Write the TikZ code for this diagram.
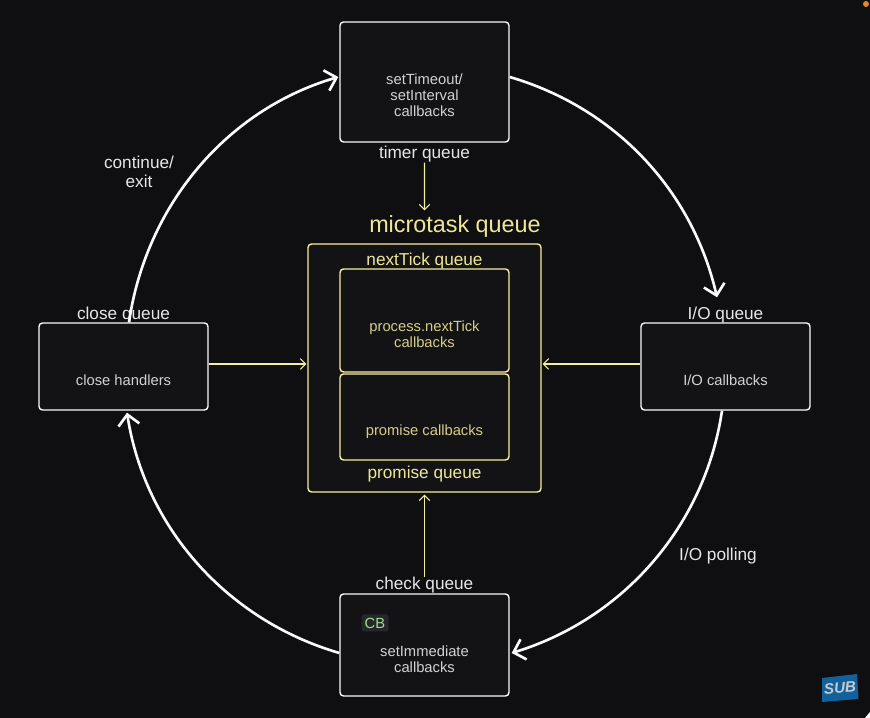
\documentclass[tikz,border=0pt]{standalone}
\usepackage{fontspec}
\setmainfont{Liberation Sans}
\usetikzlibrary{
  arrows.meta,
}
\definecolor{bgDark}{HTML}{0F0F11}
\definecolor{fillBox}{HTML}{131316}
\definecolor{lineWhite}{HTML}{FAFAFA}
\definecolor{textWhite}{HTML}{E6E6E6}
\definecolor{textBox}{HTML}{D2D2D2}
\definecolor{lineYellow}{HTML}{F5EE9E}
\definecolor{textYellow}{HTML}{EFE797}
\definecolor{textYellowDim}{HTML}{D6CE88}
\definecolor{badgeFill}{HTML}{25282A}
\definecolor{badgeText}{HTML}{A6DB8E}
\definecolor{subBlue}{HTML}{12619B}
\definecolor{subText}{HTML}{C4CCD2}
\definecolor{dotOrange}{HTML}{E8842A}
\tikzset{
  whitebox/.style={
    rectangle, rounded corners=2pt, draw=lineWhite, fill=fillBox,
    minimum width=3.38cm, line width=0.8pt, inner sep=0pt,
  },
  yellowbox/.style={
    whitebox, draw=lineYellow,
  },
  boxtext/.style={font=\fontsize{8.4}{9.1}\selectfont, text=textBox, align=center},
  yellowtext/.style={boxtext, text=textYellowDim},
  queuelabel/.style={font=\fontsize{9.8}{11}\selectfont, text=textWhite, align=center},
  yellowlabel/.style={queuelabel, text=textYellow},
  looparrow/.style={-{Straight Barb[length=6pt,width=12pt,line width=1.5pt]}, lineWhite, line width=1.5pt, looseness=0.93},
  microarrow/.style={-{Straight Barb[length=3pt,width=6pt]}, lineYellow, line width=0.6pt},
}
\begin{document}
\begin{tikzpicture}

  \fill[bgDark] (0, 0) rectangle (17.4, 14.36);
  \useasboundingbox (0, 0) rectangle (17.4, 14.36);

  % Screen corners
  \fill[lineWhite] (17.4, 0) -- (17.4, 0.12) .. controls (17.36, 0.05) .. (17.3, 0) -- cycle;
  \fill[dotOrange] (17.32, 14.28) circle (0.06);

  % Phase boxes
  \node[whitebox, minimum height=2.4cm] (timer) at (8.49, 12.72) {};
  \node[whitebox, minimum height=1.74cm] (close) at (2.47, 7.03) {};
  \node[whitebox, minimum height=1.74cm] (io) at (14.51, 7.03) {};
  \node[whitebox, minimum height=2.04cm] (check) at (8.49, 1.46) {};

  % Microtask boxes
  \node[yellowbox, minimum width=4.66cm, minimum height=4.96cm] (micro) at (8.49, 7.0) {};
  \node[yellowbox, minimum height=2.06cm] (nextTick) at (8.49, 7.95) {};
  \node[yellowbox, minimum height=1.72cm] (promise) at (8.49, 6.02) {};

  % Box texts
  \node[boxtext] (timerText) at (8.49, 12.45) {setTimeout/\\setInterval\\callbacks};
  \node[boxtext] (closeText) at (2.47, 6.76) {close handlers};
  \node[boxtext] (ioText) at (14.51, 6.76) {I/O callbacks};
  \node[boxtext] (checkText) at (8.49, 1.18) {setImmediate\\callbacks};
  \node[yellowtext] (nextTickText) at (8.49, 7.67) {process.nextTick\\callbacks};
  \node[yellowtext] (promiseText) at (8.49, 5.72) {promise callbacks};

  % Queue labels
  \node[queuelabel] (timerLabel) at (8.49, 11.28) {timer queue};
  \node[queuelabel] (closeLabel) at (2.47, 8.05) {close queue};
  \node[queuelabel] (ioLabel) at (14.51, 8.05) {I/O queue};
  \node[queuelabel] (checkLabel) at (8.49, 2.65) {check queue};
  \node[queuelabel] (continueLabel) at (2.78, 10.92) {continue/\\exit};
  \node[queuelabel] (pollingLabel) at (14.36, 3.24) {I/O polling};
  \node[yellowlabel, font=\fontsize{13.3}{15}\selectfont] (microLabel) at (9.1, 9.83) {microtask queue};
  \node[yellowlabel] (nextTickLabel) at (8.49, 9.14) {nextTick queue};
  \node[yellowlabel] (promiseLabel) at (8.49, 4.88) {promise queue};

  % CB badge
  \node[rectangle, rounded corners=1pt, fill=badgeFill, text=badgeText, minimum width=0.54cm, minimum height=0.34cm, inner sep=0pt, font=\fontsize{8.4}{9}\selectfont] (cbBadge) at (7.5, 1.9) {CB};

  % Loop arrows
  \draw[looparrow] ([yshift=0.1cm]timer.east) to[out=-16.3, in=103] ([xshift=-0.17cm, yshift=0.08cm]ioLabel.north);
  \draw[looparrow] ([xshift=-0.07cm]io.south) to[out=-98.4, in=16.9] ([xshift=0.04cm, yshift=-0.16cm]check.east);
  \draw[looparrow] ([yshift=-0.16cm]check.west) to[out=163.7, in=-81.2] ([xshift=0.07cm, yshift=-0.04cm]close.south);
  \draw[looparrow] ([xshift=0.11cm]close.north) to[out=81.7, in=-163.7] ([xshift=-0.02cm, yshift=0.1cm]timer.west);

  % Microtask arrows
  \draw[microarrow] ([yshift=0.11cm]timerLabel.south) -- ([xshift=-0.61cm, yshift=-0.02cm]microLabel.north);
  \draw[microarrow] ([yshift=0.05cm]close.east) -- ([xshift=-0.02cm, yshift=0.08cm]micro.west);
  \draw[microarrow] ([yshift=0.05cm]io.west) -- ([xshift=0.02cm, yshift=0.08cm]micro.east);
  \draw[microarrow] ([yshift=-0.12cm]checkLabel.north) -- ([yshift=-0.04cm]micro.south);

  % SUB badge
  \fill[subBlue] (16.44, 0.8) -- (17.14, 0.88) -- (17.17, 0.38) -- (16.44, 0.32) -- cycle;
  \node[rotate=4, text=subText, inner sep=0pt, font=\fontsize{8.6}{10}\selectfont\bfseries\itshape] (subBadge) at (16.8, 0.6) {SUB};

\end{tikzpicture}
\end{document}
